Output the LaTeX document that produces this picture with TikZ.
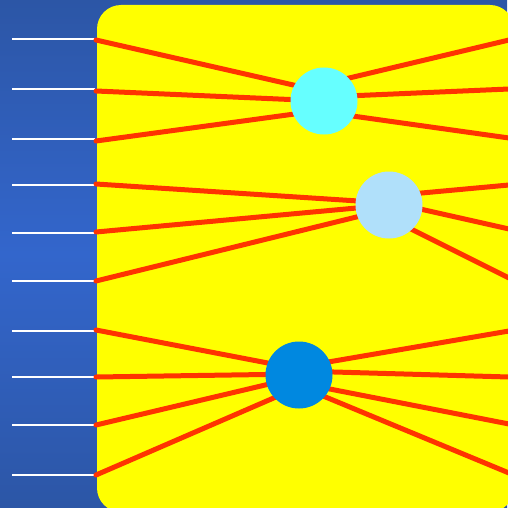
\documentclass[tikz,border=0pt]{standalone}
\usetikzlibrary{calc, backgrounds}
\definecolor{bgblue}{HTML}{3366CC}
\definecolor{bgdark}{HTML}{2C56A6}
\definecolor{paneyellow}{HTML}{FFFF00}
\definecolor{wirered}{HTML}{FF3300}
\definecolor{hubcyan}{HTML}{66FFFF}
\definecolor{hubpale}{HTML}{B0E0FA}
\definecolor{hubblue}{HTML}{0088E0}

\begin{document}
\begin{tikzpicture}[
  x=1pt, y=-1pt,
  wire/.style={line width=5pt, wirered, line cap=round},
  tick/.style={line width=1.6pt, white},
  hub/.style={circle, minimum size=67pt, inner sep=0pt}
]
\useasboundingbox (0,0) rectangle (507,508);

% hubs
\node[hub, fill=hubcyan] (c1) at (324,101) {};
\node[hub, fill=hubpale] (c2) at (389,205) {};
\node[hub, fill=hubblue] (c3) at (299,375) {};

% ports on the pane edges
\foreach \n/\y in {1/40, 2/91, 3/141, 4/184, 5/232, 6/281, 7/330, 8/377, 9/425, 10/475}
  \coordinate (l\n) at (96,\y);
\foreach \n/\y in {1/40, 2/89, 3/138, 4/185, 5/229, 6/278, 7/331, 8/377, 9/424, 10/473}
  \coordinate (r\n) at (509,\y);

\begin{scope}[on background layer]
  \fill[bottom color=bgdark, top color=bgdark, middle color=bgblue] (0,0) rectangle (507,508);
  \fill[paneyellow, rounded corners=24pt] (97,5) rectangle (514,512);
  \foreach \y in {39, 89, 139, 185, 233, 281, 331, 377, 425, 475}
    \draw[tick] (12,\y) -- (95,\y);
  % wires into the hubs
  \foreach \n/\d in {1/9, 2/0, 3/-9}
    \draw[wire] (l\n) -- ([yshift=\d pt]c1.center);
  \foreach \n/\d in {1/17, 2/4, 3/-11}
    \draw[wire] ([yshift=\d pt]c1.center) -- (r\n);
  \foreach \n/\d in {4/2, 5/0, 6/-4}
    \draw[wire] (l\n) -- ([yshift=\d pt]c2.center);
  \foreach \n/\d in {4/9, 5/3, 6/-13}
    \draw[wire] ([yshift=\d pt]c2.center) -- (r\n);
  \foreach \n/\d in {7/6, 8/1, 9/-2, 10/-12}
    \draw[wire] (l\n) -- ([yshift=\d pt]c3.center);
  \foreach \n/\d in {7/8, 8/4, 9/-8, 10/-11}
    \draw[wire] ([yshift=\d pt]c3.center) -- (r\n);
\end{scope}
\end{tikzpicture}
\end{document}
